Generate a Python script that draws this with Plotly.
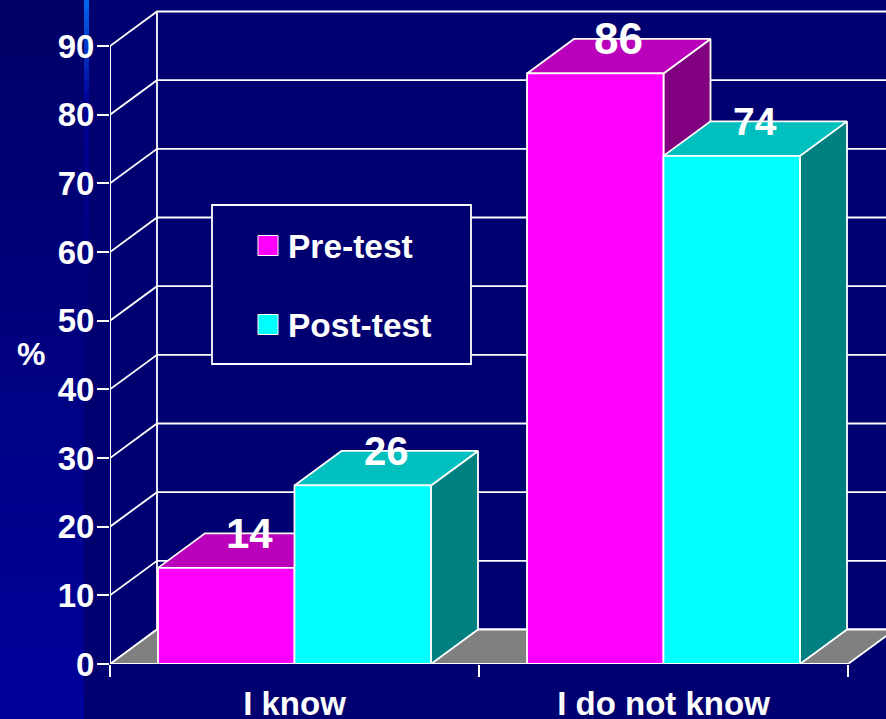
import plotly.graph_objects as go

categories = ["I know", "I do not know"]
pre_test = [14, 86]
post_test = [26, 74]
y_ticks = [0, 10, 20, 30, 40, 50, 60, 70, 80, 90]

NAVY = "#000070"
MAGENTA = "#FF00FF"
CYAN = "#00FFFF"
FONT = "Liberation Sans, Arial, sans-serif"
LINE_W = 1.8
W, H = 886, 719
L, B = 110, 55
CAT_PX = 369.0
PX_PER_UNIT = 618 / 90
Y_MAX = (H - B) / PX_PER_UNIT
DX = 47 / CAT_PX
DY = 34.5 / PX_PER_UNIT
BAR_W = 136.5 / CAT_PX
X_MIN = -0.5
X_MAX = X_MIN + (W - L) / CAT_PX


def px(x):
    return (x - L) / (W - L)


def py(y):
    return (H - B - y) / (H - B)


fig = go.Figure()


def poly(xs, ys, fill):
    fig.add_trace(go.Scatter(x=xs, y=ys, mode="lines", fill="toself", fillcolor=fill,
                             line=dict(color="white", width=LINE_W),
                             showlegend=False, hoverinfo="skip", xaxis="x", yaxis="y"))


# back wall and side wall grid
gx, gy = [], []
for v in y_ticks:
    gx += [X_MIN, X_MIN + DX, X_MAX + DX, None]
    gy += [v, v + DY, v + DY, None]
fig.add_trace(go.Scatter(x=gx, y=gy, mode="lines", line=dict(color="white", width=LINE_W),
                         showlegend=False, hoverinfo="skip"))
fig.add_trace(go.Scatter(x=[X_MIN + DX, X_MIN + DX], y=[DY, max(y_ticks) + DY], mode="lines",
                         line=dict(color="white", width=LINE_W),
                         showlegend=False, hoverinfo="skip"))
# value axis line
fig.add_trace(go.Scatter(x=[X_MIN, X_MIN], y=[min(y_ticks), max(y_ticks)], mode="lines",
                         line=dict(color="white", width=2), cliponaxis=False,
                         showlegend=False, hoverinfo="skip"))
# floor
x_end = len(categories) - 0.5
poly([X_MIN, X_MIN + DX, x_end + DX, x_end, X_MIN], [0, DY, DY, 0, 0], "#808080")

# 3D faces of the bars
for i in range(len(categories)):
    for vals, x0, top_c, side_c in ((pre_test, i - BAR_W, "#BB00BB", "#800080"),
                                    (post_test, i, "#00BFBF", "#008080")):
        v = vals[i]
        x1 = x0 + BAR_W
        poly([x1, x1 + DX, x1 + DX, x1, x1], [0, DY, v + DY, v, 0], side_c)
        poly([x0, x0 + DX, x1 + DX, x1, x0], [v, v + DY, v + DY, v, v], top_c)

# front faces
fig.add_trace(go.Bar(x=categories, y=pre_test, xaxis="x2", yaxis="y", showlegend=False,
                     marker=dict(color=MAGENTA, line=dict(color="white", width=LINE_W)), hoverinfo="skip"))
fig.add_trace(go.Bar(x=categories, y=post_test, xaxis="x2", yaxis="y", showlegend=False,
                     marker=dict(color=CYAN, line=dict(color="white", width=LINE_W)), hoverinfo="skip"))

# legend entries
for name, color in (("Pre-test", MAGENTA), ("Post-test", CYAN)):
    fig.add_trace(go.Scatter(x=[None], y=[None], mode="markers", name=name, legendgroup=name,
                             marker=dict(symbol="square", size=16, color=color, line=dict(width=0))))

# backdrop
shapes = []
n = 60
for k in range(n):
    t = k / (n - 1)
    shapes.append(dict(type="rect", xref="paper", yref="paper", layer="below", line_width=0,
                       x0=px(0), x1=px(84), y0=py(H * (k + 1) / n), y1=py(H * k / n),
                       fillcolor=f"rgb(0,0,{int(104 + 51 * t)})"))
    if k < 40:
        yt, yb = 400 * k / 40, 400 * (k + 1) / 40
        s = k / 39
        if s < 0.25:
            c = (0, int(100 * (1 - s / 0.25)), int(235 - 85 * s / 0.25))
        else:
            c = (0, 0, int(150 - 38 * (s - 0.25) / 0.75))
        shapes.append(dict(type="rect", xref="paper", yref="paper", layer="below", line_width=0,
                           x0=px(84), x1=px(89), y0=py(yb), y1=py(yt),
                           fillcolor=f"rgb({c[0]},{c[1]},{c[2]})"))
shapes.append(dict(type="rect", xref="paper", yref="paper", layer="above",
                   x0=px(212), x1=px(471), y0=py(364), y1=py(205), fillcolor=NAVY,
                   line=dict(color="white", width=LINE_W)))
for color, yc in ((MAGENTA, 245.5), (CYAN, 324.5)):
    shapes.append(dict(type="rect", xref="paper", yref="paper", layer="above",
                       x0=px(258), x1=px(278), y0=py(yc + 10), y1=py(yc - 10), fillcolor=color,
                       line=dict(color="white", width=1)))

annotations = [dict(text="<b>%</b>", xref="paper", yref="paper", x=px(31), y=py(354),
                    xanchor="center", yanchor="middle",
                    showarrow=False, font=dict(size=32, color="white", family=FONT))]
label_sizes = {14: 42, 26: 40, 74: 39, 86: 44}
for i in range(len(categories)):
    for vals, x0 in ((pre_test, i - BAR_W), (post_test, i)):
        annotations.append(dict(text=f"<b>{vals[i]}</b>", x=x0 + BAR_W / 2 + DX / 2, y=vals[i] + DY,
                                xref="x", yref="y", showarrow=False,
                                font=dict(size=label_sizes[vals[i]], color="white", family=FONT)))

fig.update_layout(
    width=W, height=H, autosize=False,
    margin=dict(l=L, r=0, t=0, b=B, pad=0),
    paper_bgcolor=NAVY, plot_bgcolor="rgba(0,0,0,0)",
    barmode="group", bargap=1 - 2 * BAR_W, bargroupgap=0,
    font=dict(family=FONT, color="white", size=33),
    shapes=shapes, annotations=annotations,
    xaxis=dict(range=[X_MIN, X_MAX], visible=False, showgrid=False, zeroline=False, automargin=False),
    xaxis2=dict(overlaying="x", anchor="y", side="bottom", range=[X_MIN, X_MAX], type="category",
                categoryorder="array", categoryarray=categories, tickson="boundaries",
                showgrid=False, zeroline=False, showline=False, automargin=False,
                ticks="outside", ticklen=12, tickwidth=LINE_W, tickcolor="white",
                tickfont=dict(size=33, color="white", family=FONT, weight="bold"),
                ticklabelstandoff=17),
    yaxis=dict(range=[0, Y_MAX], tickvals=y_ticks, showgrid=False, zeroline=False,
               showline=False, automargin=False,
               ticks="outside", ticklen=12, tickwidth=LINE_W, tickcolor="white",
               ticklabelstandoff=-4,
               tickfont=dict(size=33, color="white", family=FONT, weight="bold")),
    legend=dict(x=px(248), y=py(217), xanchor="left", yanchor="top", bgcolor="rgba(0,0,0,0)",
                borderwidth=0, tracegroupgap=32, traceorder="grouped",
                font=dict(size=33.5, color="white", family=FONT, weight="bold")),
)
fig.write_html("out.html", config=dict(displayModeBar=False),
               post_script="document.body.style.margin='0';document.body.style.overflow='hidden';")
